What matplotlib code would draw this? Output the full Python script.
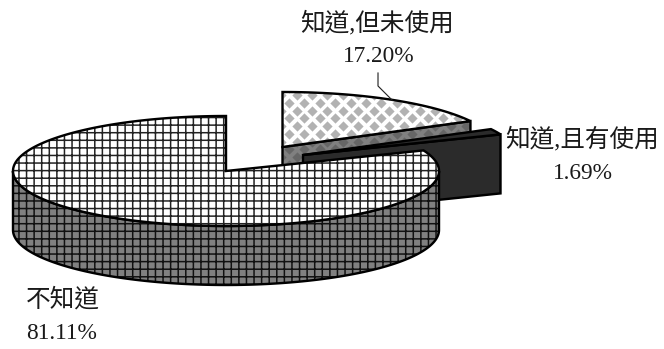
import numpy as np
import matplotlib
matplotlib.use("Agg")
import matplotlib.pyplot as plt
from matplotlib.patches import Polygon

categories = ["知道,但未使用", "知道,且有使用", "不知道"]
values = [17.20, 1.69, 81.11]
value_labels = ["17.20%", "1.69%", "81.11%"]

DPI = 91
plt.rcParams["hatch.linewidth"] = 1.2
plt.rcParams["font.family"] = ["Liberation Serif", "Noto Sans CJK TC"]
fig = plt.figure(figsize=(664.01 / DPI, 349.01 / DPI), dpi=DPI)
ax = fig.add_axes([0, 0, 1, 1])
ax.set_xlim(0, 664)
ax.set_ylim(349, 0)
ax.axis("off")

RX, RY, DEPTH = 213, 55, 59
LW = 1.9
ends = 90 - 3.6 * np.cumsum(values)
starts = np.r_[90, ends[:-1]]


def rim(cx, cy, a0, a1, n=160):
    t = np.radians(np.linspace(a0, a1, n))
    return np.c_[cx + RX * np.cos(t), cy - RY * np.sin(t)]


def draw(pts, face, hatch=None, hcolor="black", z=1):
    ax.add_patch(Polygon(pts, closed=True, facecolor=face, edgecolor=hcolor if hatch else "none",
                         hatch=hatch, lw=0, zorder=z))
    ax.add_patch(Polygon(pts, closed=True, facecolor="none", edgecolor="black", lw=LW,
                         joinstyle="miter", zorder=z + 0.5))
    return pts


def diamonds(pts, color, z):
    clip = Polygon(pts, closed=True, transform=ax.transData)
    gx, gy = np.meshgrid(np.arange(0, 664, 15.4), np.arange(0, 349, 7.7))
    odd = (np.round(gy / 7.7).astype(int) % 2) == 1
    gx = gx + odd * 7.7 + 4
    gy = gy + 3
    sc = ax.scatter(gx.ravel(), gy.ravel(), s=33, marker="D", color=color, lw=0, zorder=z)
    sc.set_clip_path(clip)


# 17.20 % slice, pulled out toward the back
ax1, ay1 = 282.5, 147
a0, a1 = ends[0], starts[0]
edge_end = rim(ax1, ay1, a0, a0, 1)[0]
wall = np.array([[ax1, ay1], edge_end, edge_end + [0, DEPTH], [ax1, ay1 + DEPTH]])
draw(wall, "#808080", z=1)
diamonds(wall, "#666666", 1.2)
top = np.vstack([[[ax1, ay1]], rim(ax1, ay1, a0, a1)])
draw(top, "white", z=2)
diamonds(top, "#b2b2b2", 2.2)

# 1.69 % slice
ax2, ay2 = 303, 155
a0, a1 = ends[1], starts[1]
edge_end = rim(ax2, ay2, a0, a0, 1)[0]
wall = np.array([[ax2, ay2], edge_end, edge_end + [0, DEPTH], [ax2, ay2 + DEPTH]])
draw(wall, "#2b2b2b", z=3)
top = np.vstack([[[ax2, ay2]], rim(ax2, ay2, a0, a1)])
draw(top, "#2b2b2b", z=4)

# 81.11 % slice
cx, cy = 226, 171
front = rim(cx, cy, 180, 360)
wall = np.vstack([front, (front + [0, DEPTH])[::-1]])
draw(wall, "#808080", "++", "#111111", z=5)
top = np.vstack([[[cx, cy]], rim(cx, cy, starts[2], ends[2], 400)])
draw(top, "white", "++", "#222222", z=6)

# Leader line
ax.plot([378, 378, 392], [73, 86, 100], color="#222222", lw=0.9, zorder=7)

# Labels
FS_CAT = 19.5
FS_NUM = 18.5
TC = "#1a1a1a"
ax.text(377.5, 23, categories[0], ha="center", va="center", fontsize=FS_CAT, color=TC)
ax.text(379, 56, value_labels[0], ha="center", va="center", fontsize=FS_NUM, color=TC)
ax.text(582, 139, categories[1], ha="center", va="center", fontsize=FS_CAT, color=TC)
ax.text(583, 173, value_labels[1], ha="center", va="center", fontsize=FS_NUM, color=TC)
ax.text(26, 300, categories[2], ha="left", va="center", fontsize=FS_CAT, color=TC)
ax.text(26, 333, value_labels[2], ha="left", va="center", fontsize=FS_NUM, color=TC)

fig.savefig("out.png", dpi=DPI)
